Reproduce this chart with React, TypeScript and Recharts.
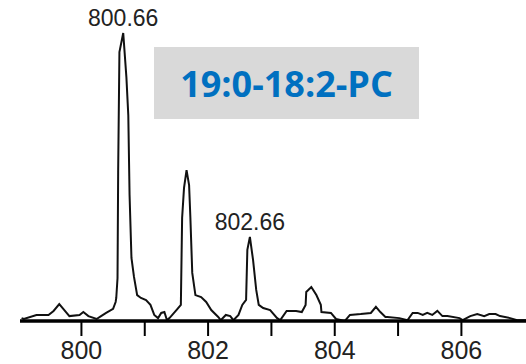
import React from "react"
import { LineChart, Line, XAxis, YAxis } from "recharts"

// m/z positions and relative intensities
const mz = [
  799.055, 799.09, 799.29, 799.48, 799.56, 799.65, 799.73, 799.81, 799.97, 800.03,
  800.11, 800.24, 800.31, 800.39, 800.5, 800.54, 800.55, 800.57, 800.58, 800.6,
  800.66, 800.71, 800.74, 800.76, 800.79, 800.83, 800.88, 800.94, 801.02, 801.09,
  801.15, 801.21, 801.26, 801.31, 801.35, 801.39, 801.5, 801.57, 801.59, 801.62,
  801.66, 801.7, 801.72, 801.75, 801.8, 801.89, 801.97, 802.05, 802.16, 802.2,
  802.28, 802.35, 802.4, 802.48, 802.54, 802.6, 802.62, 802.66, 802.71, 802.76,
  802.8, 802.87, 802.98, 803.09, 803.14, 803.24, 803.39, 803.48, 803.54, 803.55,
  803.63, 803.71, 803.78, 803.79, 803.94, 804.02, 804.16, 804.24, 804.41, 804.57,
  804.65, 804.72, 804.8, 804.83, 805.02, 805.15, 805.23, 805.31, 805.39, 805.46,
  805.54, 805.62, 805.7, 805.78, 805.97, 806.02, 806.14, 806.25, 806.36, 806.44,
  806.54, 806.61, 806.77, 806.88, 807.02,
]
const intensity = [
  1.0, 0.7, 2.1, 2.1, 3.5, 5.9, 3.8, 1.7, 2.1, 3.1,
  1.7, 0.7, 1.7, 2.8, 4.2, 6.6, 8.0, 14.9, 51.7, 93.4,
  100, 84.7, 71.5, 43.8, 21.9, 15.3, 9.0, 8.0, 7.3, 5.6,
  2.1, 1.0, 2.8, 3.1, 0.3, 1.0, 3.8, 5.6, 35.8, 46.2,
  52.4, 47.2, 36.1, 16.7, 9.0, 8.3, 6.6, 3.8, 1.4, 0.3,
  2.1, 1.7, 0.3, 2.1, 5.6, 7.3, 24.7, 29.2, 21.2, 10.8,
  5.6, 4.5, 3.8, 1.0, 0.3, 3.5, 3.5, 3.1, 5.6, 10.1,
  11.8, 9.0, 5.6, 3.1, 2.8, 0.7, 0.0, 2.1, 2.4, 2.8,
  4.9, 3.1, 1.4, 1.4, 1.0, 0.3, 2.8, 2.8, 2.1, 2.8,
  2.1, 3.5, 1.7, 1.7, 1.0, 0.3, 1.7, 2.4, 1.7, 2.4,
  2.4, 1.7, 1.0, 0.3, 0.3,
]
const peakLabels = [800.66, 802.66]
const xTicks = [800, 801, 802, 803, 804, 805, 806]
const title = "19:0-18:2-PC"

const data = mz.map((m, i) => ({ mz: m, value: intensity[i] }))

function Tick(props: any) {
  const { x, y, payload } = props
  if (payload.value % 2 !== 0) return null
  return (
    <text x={x} y={y + 21} textAnchor="middle" fontSize={25} fill="#222" fontFamily="Liberation Sans, Arial, sans-serif">
      {payload.value}
    </text>
  )
}

function PeakLabel(props: any) {
  const { x, y, index } = props
  const m = data[index]?.mz
  if (!peakLabels.includes(m)) return null
  return (
    <text x={x} y={y - 7} textAnchor="middle" fontSize={23} fill="#222" fontFamily="Liberation Sans, Arial, sans-serif">
      {m.toFixed(2)}
    </text>
  )
}

export default function App() {
  return (
    <div style={{ position: "absolute", left: 0, top: 0, width: 526, height: 364, background: "#fff" }}>
      <LineChart width={526} height={364} data={data} margin={{ top: 33, right: 0, bottom: 0, left: 20 }}>
        <XAxis
          dataKey="mz"
          type="number"
          domain={[799.03, 807.02]}
          allowDataOverflow
          ticks={xTicks}
          height={43}
          tickSize={15}
          tick={<Tick />}
          axisLine={{ stroke: "#000", strokeWidth: 3.5 }}
          tickLine={{ stroke: "#000", strokeWidth: 2 }}
        />
        <YAxis hide domain={[0, 100]} />
        <Line
          type="linear"
          dataKey="value"
          stroke="#111"
          strokeWidth={2}
          dot={false}
          isAnimationActive={false}
          label={<PeakLabel />}
        />
      </LineChart>
      <div
        style={{
          position: "absolute",
          left: 154,
          top: 47,
          width: 265,
          height: 72,
          background: "#d9d9d9",
          display: "flex",
          alignItems: "center",
          justifyContent: "center",
          color: "#0070c0",
          fontFamily: "'Open Sans', sans-serif",
          fontWeight: 700,
          fontSize: 36,
        }}
      >
        {title}
      </div>
    </div>
  )
}
